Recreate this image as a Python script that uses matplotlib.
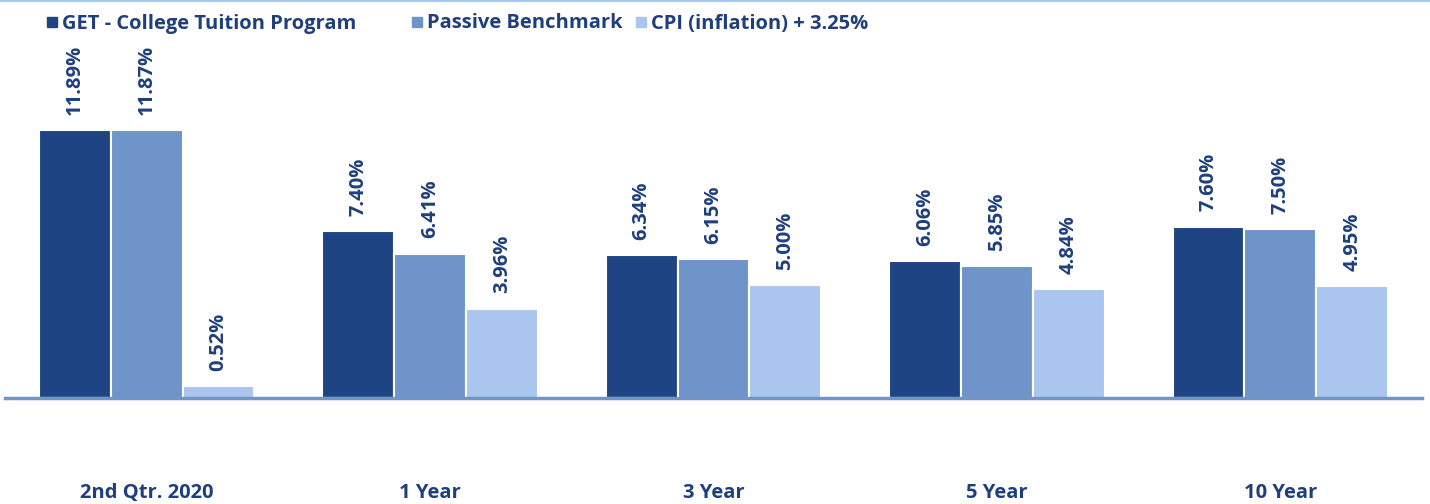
import matplotlib.pyplot as plt
from matplotlib.lines import Line2D
import numpy as np

# data
categories = ['2nd Qtr. 2020', '1 Year', '3 Year', '5 Year', '10 Year']
series_names = ['GET - College Tuition Program', 'Passive Benchmark', 'CPI (inflation) + 3.25%']
get_program = [11.89, 7.40, 6.34, 6.06, 7.60]
passive_bench = [11.87, 6.41, 6.15, 5.85, 7.50]
cpi_plus = [0.52, 3.96, 5.00, 4.84, 4.95]

colors = ['#1F4484', '#6F94CA', '#AAC6EE']
text_color = '#1F3F7C'
plt.rcParams['font.family'] = ['Open Sans', 'DejaVu Sans']

W, H = 1430, 504
fig = plt.figure(figsize=(W / 100, H / 100), dpi=100)
ax = fig.add_axes([5 / W, 106 / H, 1417 / W, 398 / H])

x = np.arange(len(categories))
w = 0.2535
for i, vals in enumerate([get_program, passive_bench, cpi_plus]):
    pos = x + (i - 1) * w
    ax.bar(pos, vals, width=w, color=colors[i], edgecolor='white', linewidth=1.5,
           label=series_names[i])
    for p, v in zip(pos, vals):
        ax.annotate('%.2f%%' % v, (p, v), xytext=(0, 11), textcoords='offset points',
                    rotation=90, ha='center', va='bottom', fontsize=14.5,
                    fontweight='bold', color=text_color)

ax.set_xlim(-0.5, len(categories) - 0.5)
ax.set_ylim(0, 398 / 22.54)
ax.set_xticks(x)
ax.set_xticklabels(categories, fontsize=14.5, fontweight='bold', color=text_color)
ax.tick_params(axis='x', length=0, pad=61)
ax.set_yticks([])
for s in ['top', 'right', 'left']:
    ax.spines[s].set_visible(False)
ax.spines['bottom'].set_color('#7096C8')
ax.spines['bottom'].set_linewidth(2.5)

# legend drawn item by item (uneven spacing like the original)
legend_x = [52, 417, 641]
for lx, c, name in zip(legend_x, colors, series_names):
    fig.add_artist(Line2D([lx / W], [1 - 22 / H], marker='s', linestyle='', color=c,
                          markersize=7, transform=fig.transFigure))
    fig.text((lx + 10) / W, 1 - 28.5 / H, name, ha='left', va='baseline', fontsize=14.5,
             fontweight='bold', color=text_color)

fig.add_artist(Line2D([0, 1], [0.999, 0.999], color='#A6C8EF', linewidth=1.5,
                      transform=fig.transFigure))

fig.savefig('out.png')
